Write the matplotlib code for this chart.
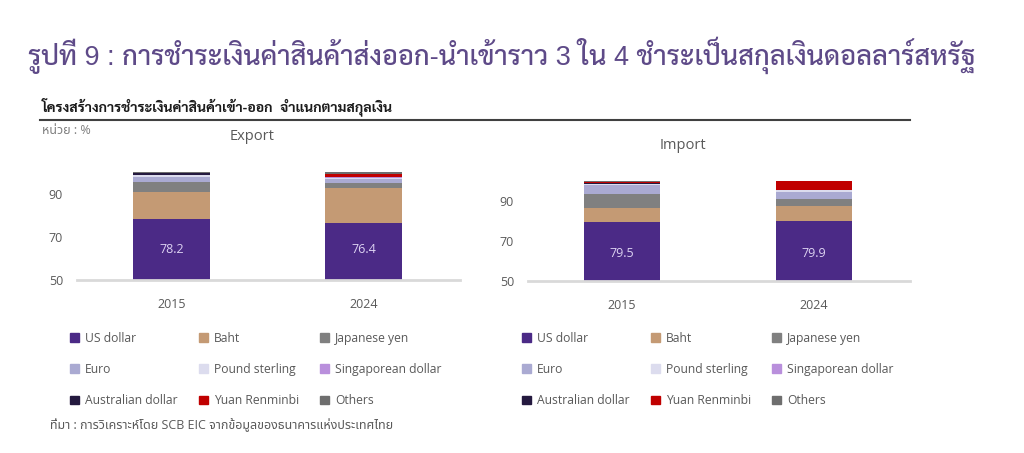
import matplotlib
matplotlib.use("Agg")
import matplotlib.pyplot as plt
from matplotlib.patches import Patch
import numpy as np

# fonts: latin first, thai fonts as fallback
LATIN = ['Open Sans', 'Noto Sans Thai', 'Sarabun', 'Bai Jamjuree', 'DejaVu Sans']
TITLE_F = ['Liberation Sans', 'Sarabun', 'Noto Sans Thai', 'Bai Jamjuree', 'DejaVu Sans']
plt.rcParams['font.family'] = LATIN

# Data (% share of payment currency)
years = ['2015', '2024']
currencies = ['US dollar', 'Baht', 'Japanese yen', 'Euro', 'Pound sterling',
              'Singaporean dollar', 'Australian dollar', 'Yuan Renminbi', 'Others']
export_vals = {
    'US dollar': [78.2, 76.4],
    'Baht': [12.7, 16.4],
    'Japanese yen': [4.5, 1.9],
    'Euro': [2.5, 2.3],
    'Pound sterling': [0.6, 0.4],
    'Singaporean dollar': [0.2, 0.2],
    'Australian dollar': [0.9, 0.3],
    'Yuan Renminbi': [0.1, 1.3],
    'Others': [0.3, 0.8],
}
import_vals = {
    'US dollar': [79.5, 79.9],
    'Baht': [7.3, 7.7],
    'Japanese yen': [6.8, 3.4],
    'Euro': [4.6, 3.8],
    'Pound sterling': [0.6, 0.8],
    'Singaporean dollar': [0.1, 0.1],
    'Australian dollar': [0.3, 0.1],
    'Yuan Renminbi': [0.5, 4.2],
    'Others': [0.3, 0.0],
}
colors = ['#4b2a86', '#c49a74', '#808080', '#aaaad2', '#dcdcee',
          '#b98fdc', '#24193f', '#c00000', '#6e6e6e']

title = 'รูปที่ 9 : การชำระเงินค่าสินค้าส่งออก-นำเข้าราว 3 ใน 4 ชำระเป็นสกุลเงินดอลลาร์สหรัฐ'
subtitle = 'โครงสร้างการชำระเงินค่าสินค้าเข้า-ออก  จำแนกตามสกุลเงิน'
unit = 'หน่วย : %'
source = 'ที่มา : การวิเคราะห์โดย SCB EIC จากข้อมูลของธนาคารแห่งประเทศไทย'

W, H = 1024, 453
fig = plt.figure(figsize=(W / 100, H / 100), dpi=100)

def fx(px):
    return px / W

def fy(py):
    return 1 - py / H

fig.text(fx(502), fy(55), title, ha='center', va='center', fontsize=19.5,
         fontweight='medium', color='#5e4a88', family=TITLE_F)
fig.text(fx(42), fy(107), subtitle, ha='left', va='center', fontsize=10.2,
         fontweight='bold', color='#1a1a1a', family=TITLE_F)
fig.add_artist(plt.Line2D([fx(40), fx(910)], [fy(120), fy(120)], color='#404040', lw=1.5))
fig.text(fx(42), fy(131), unit, ha='left', va='center', fontsize=9, color='#7f7f7f')


def draw_panel(rect, data, name, name_xy):
    ax = fig.add_axes(rect)
    x = np.arange(len(years))
    bottom = np.zeros(len(years))
    for cur, col in zip(currencies, colors):
        v = np.array(data[cur])
        ax.bar(x, v, 0.40, bottom=bottom, color=col, label=cur)
        bottom += v
    usd = data['US dollar']
    for xi, v in zip(x, usd):
        ax.text(xi, 64, f'{v:.1f}', ha='center', va='center', fontsize=9, color='#ddd3f2')
    ax.set_ylim(50, 104)
    ax.set_xlim(-0.49, 1.5)
    ax.set_yticks([50, 70, 90])
    ax.set_xticks(x, years)
    for s in ['top', 'right', 'left']:
        ax.spines[s].set_visible(False)
    ax.spines['bottom'].set_color('#d9d9d9')
    ax.spines['bottom'].set_linewidth(2)
    ax.tick_params(length=0, labelsize=9, labelcolor='#595959')
    ax.tick_params(axis='y', pad=10)
    ax.tick_params(axis='x', pad=13)
    fig.text(fx(name_xy[0]), fy(name_xy[1]), name, ha='center', va='center',
             fontsize=10.5, color='#595959')
    return ax


draw_panel([fx(77), fy(280), fx(460) - fx(77), (280 - 163.4) / H], export_vals, 'Export', (252, 137))
draw_panel([fx(528), fy(281), fx(910) - fx(528), (281 - 173.5) / H], import_vals, 'Import', (683, 145))

# legends (3 columns, row-wise as in the reference)
handles = [Patch(color=c, label=n) for n, c in zip(currencies, colors)]
order = [0, 3, 6, 1, 4, 7, 2, 5, 8]
for x0 in [70, 522]:
    fig.legend([handles[i] for i in order], [currencies[i] for i in order],
               ncol=3, loc='upper left', bbox_to_anchor=(fx(x0), fy(332)),
               frameon=False, fontsize=8.7, handlelength=0.75, handleheight=0.75,
               handletextpad=0.5, columnspacing=1.75, labelspacing=1.5,
               labelcolor='#595959', borderaxespad=0, borderpad=0)

fig.text(fx(50), fy(425), source, ha='left', va='center', fontsize=9, color='#595959')

fig.savefig('out.png', dpi=100)
